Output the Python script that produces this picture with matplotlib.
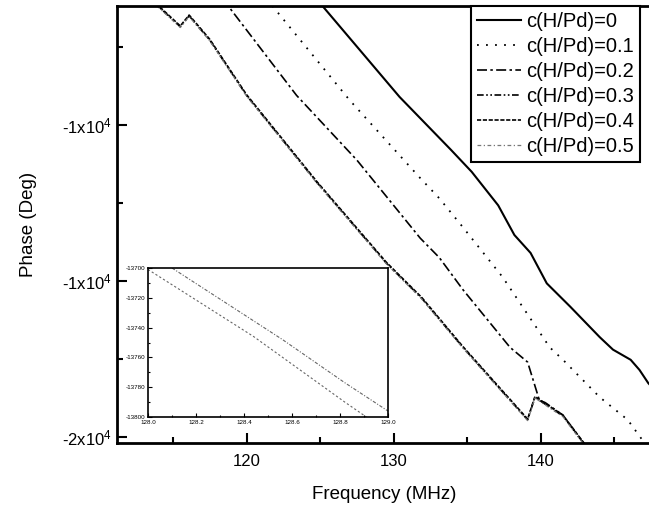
import matplotlib
matplotlib.use('Agg')
import matplotlib.pyplot as plt
from matplotlib.ticker import MultipleLocator, FixedLocator, FixedFormatter

plt.rcParams['font.family'] = ['Liberation Sans', 'DejaVu Sans']
plt.rcParams['mathtext.fontset'] = 'custom'
plt.rcParams['mathtext.rm'] = 'Liberation Sans'
plt.rcParams['mathtext.it'] = 'Liberation Sans'

# ================== DATA ==================
labels = ['c(H/Pd)=0', 'c(H/Pd)=0.1', 'c(H/Pd)=0.2',
          'c(H/Pd)=0.3', 'c(H/Pd)=0.4', 'c(H/Pd)=0.5']

f_c0 = [124.0, 125.1, 130.4, 133.9, 135.3, 137.1, 138.2, 139.3, 140.4, 142.0, 144.0, 144.9, 146.1, 146.7, 147.3, 148.0]
p_c0 = [-10220, -10460, -11640, -12320, -12600, -13030, -13410, -13640, -14030, -14330, -14720, -14880, -15010, -15140, -15310, -15450]

f_c1 = [121.0, 121.7, 127.0, 131.8, 133.1, 134.7, 137.4, 140.6, 141.5, 144.0, 145.9, 146.9, 148.0]
p_c1 = [-10310, -10460, -11680, -12680, -12940, -13310, -13950, -14850, -15010, -15490, -15780, -16040, -16250]

f_c2 = [118.0, 118.7, 123.4, 127.5, 131.8, 133.1, 134.7, 137.9, 139.1, 139.9, 140.3, 141.5, 142.9, 143.5]
p_c2 = [-10320, -10460, -11620, -12450, -13450, -13700, -14110, -14850, -15040, -15530, -15560, -15720, -16080, -16200]

f_c3 = [113.0, 113.9, 115.5, 116.1, 117.5, 120.0, 124.8, 129.5, 131.9, 134.7, 139.1, 139.6, 140.3, 141.5, 142.9, 143.5]
p_c3 = [-10300, -10460, -10740, -10600, -10910, -11620, -12740, -13770, -14220, -14850, -15780, -15490, -15580, -15730, -16080, -16200]

f_c4 = [113.0, 113.9, 115.5, 116.1, 117.5, 120.0, 124.8, 129.5, 131.9, 134.7, 139.1, 139.6, 140.3, 141.5, 142.9, 143.5]
p_c4 = [-10290, -10450, -10730, -10590, -10900, -11610, -12730, -13760, -14210, -14840, -15770, -15480, -15570, -15720, -16070, -16190]

f_c5 = [113.0, 113.9, 115.5, 116.1, 117.5, 120.0, 124.8, 129.5, 131.9, 134.7, 139.1, 139.6, 140.3, 141.5, 142.9, 143.5]
p_c5 = [-10310, -10470, -10750, -10610, -10920, -11630, -12750, -13780, -14230, -14860, -15790, -15500, -15590, -15740, -16090, -16210]

# inset (zoom around 128-129 MHz)
fi_a = [128.10, 128.56, 128.82, 129.0]
pi_a = [-13700, -13748, -13777, -13796]
fi_b = [128.0, 128.44, 128.82, 128.91]
pi_b = [-13701, -13746, -13790, -13800]

ytick_vals = [-12000, -14000, -16000]
ytick_text = ['-1x10$^4$', '-1x10$^4$', '-2x10$^4$']
# ==========================================

styles = [
    dict(color='black', lw=1.5, ls='-'),
    dict(color='black', lw=1.3, ls=(0, (1, 4))),
    dict(color='black', lw=1.2, ls=(0, (6, 2, 1.5, 2))),
    dict(color='black', lw=1.2, ls=(0, (4, 1.5, 1, 1.5, 1, 1.5))),
    dict(color='black', lw=1.2, ls=(0, (2.5, 1))),
    dict(color='#777777', lw=0.9, ls=(0, (3, 2, 1, 2))),
]

fig = plt.figure(figsize=(6.49, 5.09), dpi=100)
ax = fig.add_axes([117/649, 1 - 443/509, (652 - 117)/649, (443 - 5.7)/509])

series = [(f_c0, p_c0), (f_c1, p_c1), (f_c2, p_c2), (f_c3, p_c3), (f_c4, p_c4), (f_c5, p_c5)]
for (f, p), lab, st in zip(series, labels, styles):
    ax.plot(f, p, label=lab, **st)

ax.set_xlim(111.2, 147.55)
ax.set_ylim(-16077, -10470)

ax.xaxis.set_major_locator(MultipleLocator(10))
ax.xaxis.set_minor_locator(MultipleLocator(5))
ax.yaxis.set_major_locator(FixedLocator(ytick_vals))
ax.yaxis.set_major_formatter(FixedFormatter(ytick_text))
ax.yaxis.set_minor_locator(MultipleLocator(1000))
ax.tick_params(which='both', direction='in', top=False, right=False, labelsize=12, width=1.5)
ax.tick_params(which='major', length=7)
ax.tick_params(which='minor', length=4)
ax.tick_params(axis='x', pad=8)
for s in ax.spines.values():
    s.set_linewidth(2)

ax.set_xlabel('Frequency (MHz)', fontsize=13.5, labelpad=12)
ax.set_ylabel('Phase (Deg)', fontsize=13.5, labelpad=18)

leg = ax.legend(loc='upper right', bbox_to_anchor=(640/649, 1 - 5.7/509),
                bbox_transform=fig.transFigure, borderaxespad=0,
                fontsize=14.5, fancybox=False, framealpha=1, edgecolor='black',
                handlelength=2.2, handletextpad=0.25, labelspacing=0.3, borderpad=0.3)
leg.get_frame().set_linewidth(1.5)

# inset
axi = fig.add_axes([148/649, 1 - 417/509, (388 - 148)/649, (417 - 268)/509])
axi.plot(fi_a, pi_a, color='#666666', lw=0.8, ls=(0, (3, 1.5, 1, 1.5)))
axi.plot(fi_b, pi_b, color='#666666', lw=0.8, ls=(0, (2, 2)))
axi.set_xlim(128.0, 129.0)
axi.set_ylim(-13800, -13700)
axi.xaxis.set_major_locator(MultipleLocator(0.2))
axi.xaxis.set_minor_locator(MultipleLocator(0.1))
axi.yaxis.set_major_locator(MultipleLocator(20))
axi.yaxis.set_minor_locator(MultipleLocator(10))
axi.xaxis.set_major_formatter(plt.FuncFormatter(lambda v, p: f'{v:.1f}'))
axi.yaxis.set_major_formatter(plt.FuncFormatter(lambda v, p: f'{v:.0f}'.replace('\u2212', '-')))
axi.tick_params(which='both', direction='in', top=False, right=False, labelsize=4.5, width=0.8, pad=2)
axi.tick_params(which='major', length=3)
axi.tick_params(which='minor', length=1.5)
for s in axi.spines.values():
    s.set_linewidth(1.2)

fig.savefig('out.png', dpi=100)
